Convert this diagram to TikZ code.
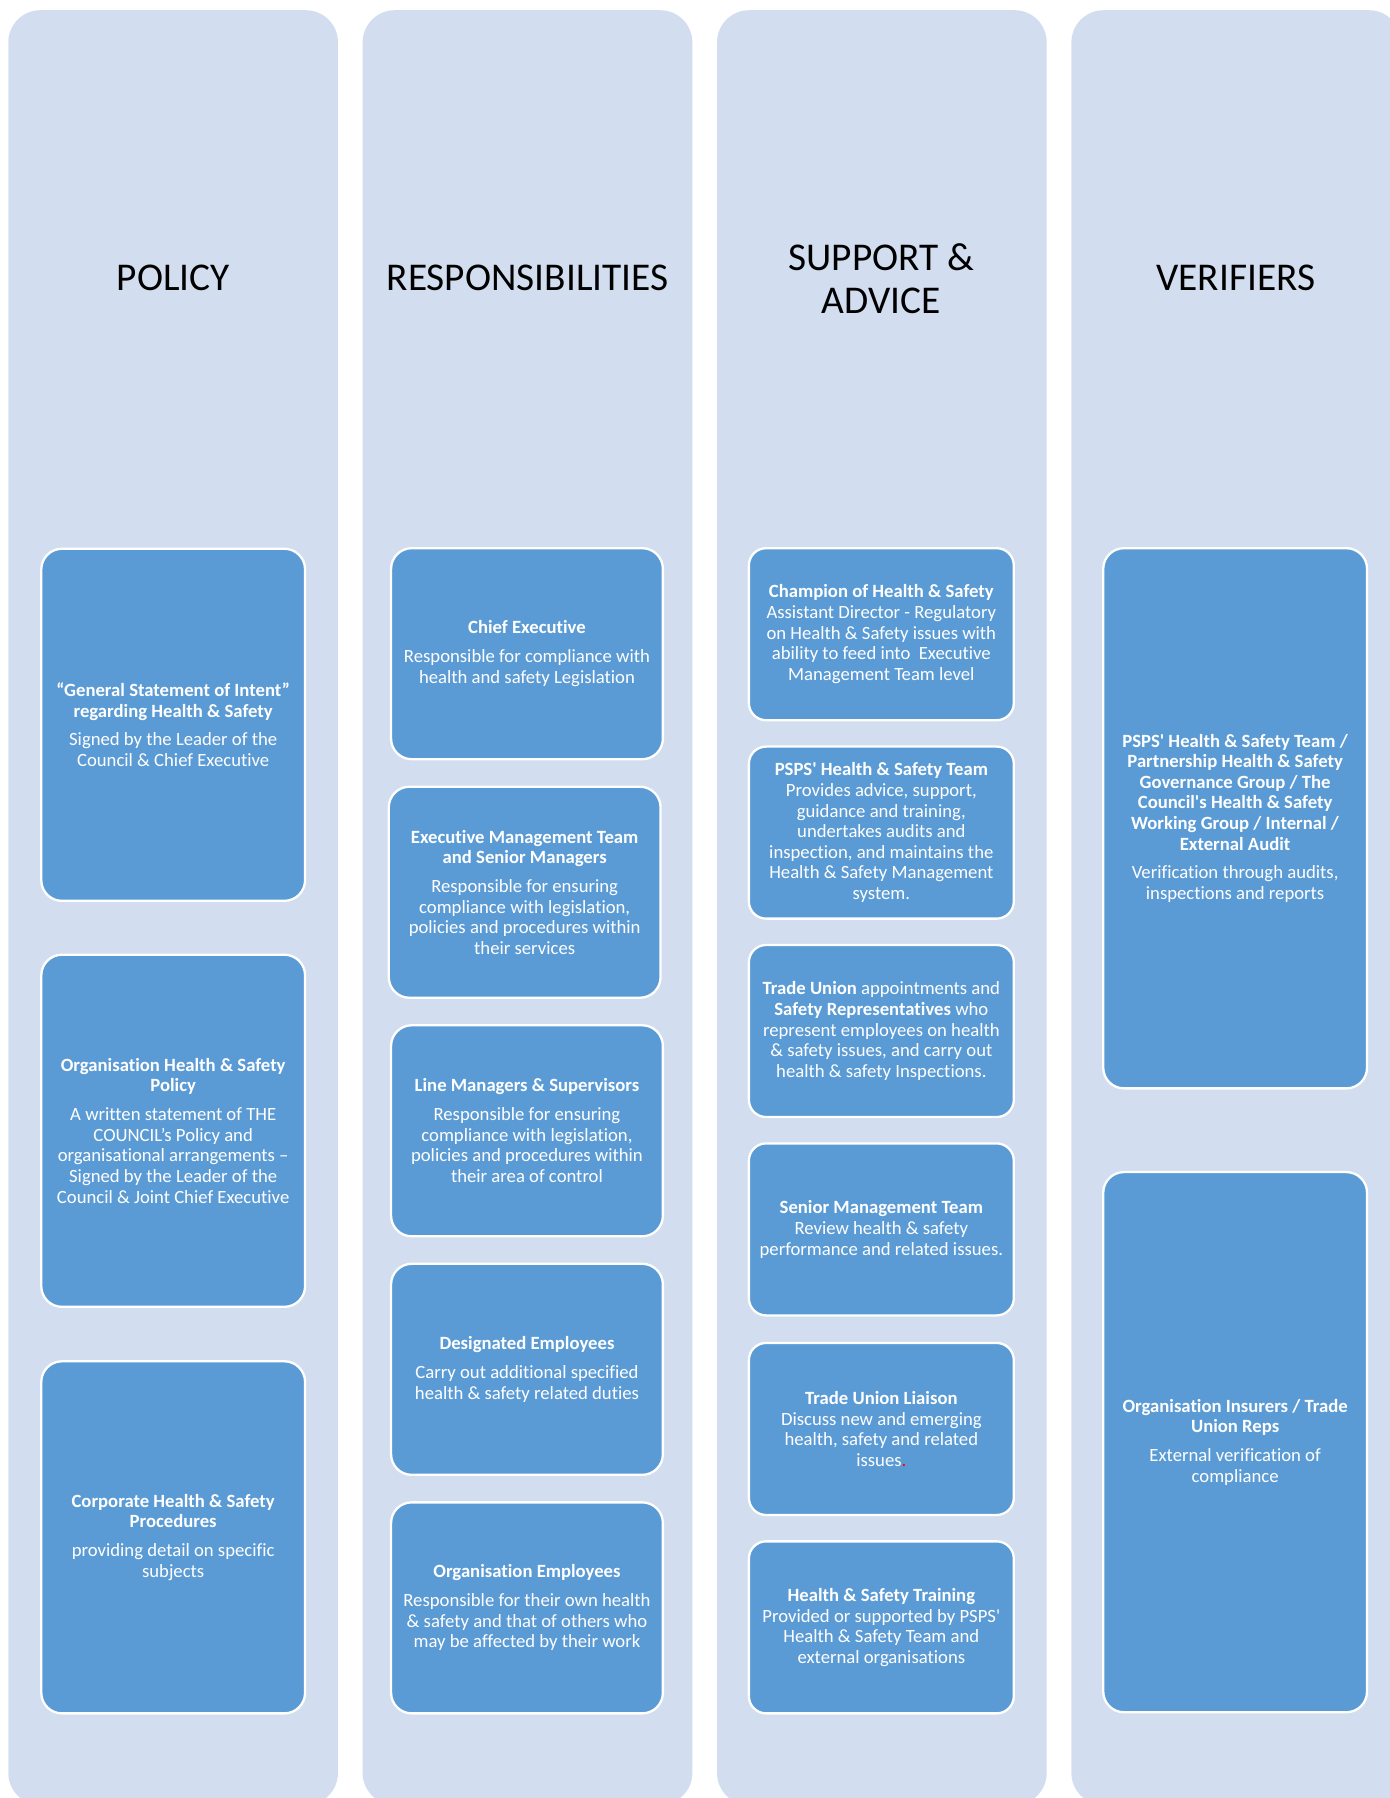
\documentclass[tikz,border=0pt]{standalone}
\usepackage{fontspec}
\newfontfamily\calibri{Carlito}[Ligatures={NoCommon}]
\definecolor{colbg}{HTML}{D2DEEF}
\definecolor{boxbg}{HTML}{5B9BD5}
\tikzset{
  column/.style={fill=colbg, rounded corners=28pt, minimum width=287.5pt, minimum height=1565pt, inner sep=0pt, anchor=north west},
  coltitle/.style={font=\calibri\fontsize{34.3}{38}\selectfont, text=black, align=center, inner sep=0pt},
  hsbox/.style={draw=white, line width=2pt, fill=boxbg, rounded corners=18pt, text=white, align=center,
    font=\calibri\fontsize{16.3}{18}\selectfont, inner sep=0pt},
  polbox/.style={hsbox, minimum width=230pt, minimum height=307pt},
  resbox/.style={hsbox, minimum width=237pt, minimum height=184pt},
  supbox/.style={hsbox, rounded corners=15pt, minimum width=231pt, minimum height=150pt},
  verbox/.style={hsbox, minimum width=230pt, minimum height=471pt},
}
\begin{document}
\begin{tikzpicture}[x=1pt,y=-1pt]
\clip (0,0) rectangle (1212,1567.8);
% columns
\node[column] (c1) at (7,8.7) {};
\node[column] (c2) at (316,8.7) {};
\node[column] (c3) at (625,8.7) {};
\node[column] (c4) at (934,8.7) {};
% titles
\node[coltitle, anchor=base] (t1) at (151,253) {POLICY};
\node[coltitle, anchor=base] (t2) at (460,253) {RESPONSIBILITIES};
\node[coltitle] (t3) at (768.5,243) {SUPPORT \&\\ADVICE};
\node[coltitle, anchor=base] (t4) at (1077.5,253) {VERIFIERS};
% policy
\node[polbox] (p1) at (151,632) {\textbf{“General Statement of Intent”}\\\textbf{regarding Health \& Safety}\\[7pt]Signed by the Leader of the\\Council \& Chief Executive};
\node[polbox] (p2) at (151,986) {\textbf{Organisation Health \& Safety}\\\textbf{Policy}\\[7pt]A written statement of THE\\COUNCIL’s Policy and\\organisational arrangements –\\Signed by the Leader of the\\Council \& Joint Chief Executive};
\node[polbox] (p3) at (151,1340.5) {\textbf{Corporate Health \& Safety}\\\textbf{Procedures}\\[7pt]providing detail on specific\\subjects};
% responsibilities
\node[resbox] (r1) at (459.5,570) {\textbf{Chief Executive}\\[7pt]Responsible for compliance with\\health and safety Legislation};
\node[resbox] (r2) at (457.5,778) {\textbf{Executive Management Team}\\\textbf{and Senior Managers}\\[7pt]Responsible for ensuring\\compliance with legislation,\\policies and procedures within\\their services};
\node[resbox] (r3) at (459.5,986) {\textbf{Line Managers \& Supervisors}\\[7pt]Responsible for ensuring\\compliance with legislation,\\policies and procedures within\\their area of control};
\node[resbox] (r4) at (459.5,1194) {\textbf{Designated Employees}\\[7pt]Carry out additional specified\\health \& safety related duties};
\node[resbox] (r5) at (459.5,1402) {\textbf{Organisation Employees}\\[7pt]Responsible for their own health\\\& safety and that of others who\\may be affected by their work};
% support & advice
\node[supbox] (s1) at (768.5,553) {\textbf{Champion of Health \& Safety}\\Assistant Director - Regulatory\\on Health \& Safety issues with\\ability to feed into\ \ Executive\\Management Team level};
\node[supbox] (s2) at (768.5,726) {\textbf{PSPS' Health \& Safety Team}\\Provides advice, support,\\guidance and training,\\undertakes audits and\\inspection, and maintains the\\Health \& Safety Management\\system.};
\node[supbox] (s3) at (768.5,899) {\textbf{Trade Union} appointments and\\\textbf{Safety Representatives} who\\represent employees on health\\\& safety issues, and carry out\\health \& safety Inspections.};
\node[supbox] (s4) at (768.5,1072) {\textbf{Senior Management Team}\\Review health \& safety\\performance and related issues.};
\node[supbox] (s5) at (768.5,1246) {\textbf{Trade Union Liaison}\\Discuss new and emerging\\health, safety and related\\issues{\color{red}.}};
\node[supbox] (s6) at (768.5,1419) {\textbf{Health \& Safety Training}\\Provided or supported by PSPS'\\Health \& Safety Team and\\external organisations};
% verifiers
\node[verbox] (v1) at (1077,713.5) {\textbf{PSPS' Health \& Safety Team /}\\\textbf{Partnership Health \& Safety}\\\textbf{Governance Group / The}\\\textbf{Council's Health \& Safety}\\\textbf{Working Group / Internal /}\\\textbf{External Audit}\\[7pt]Verification through audits,\\inspections and reports};
\node[verbox] (v2) at (1077,1257.5) {\textbf{Organisation Insurers / Trade}\\\textbf{Union Reps}\\[7pt]External verification of\\compliance};
\end{tikzpicture}
\end{document}
